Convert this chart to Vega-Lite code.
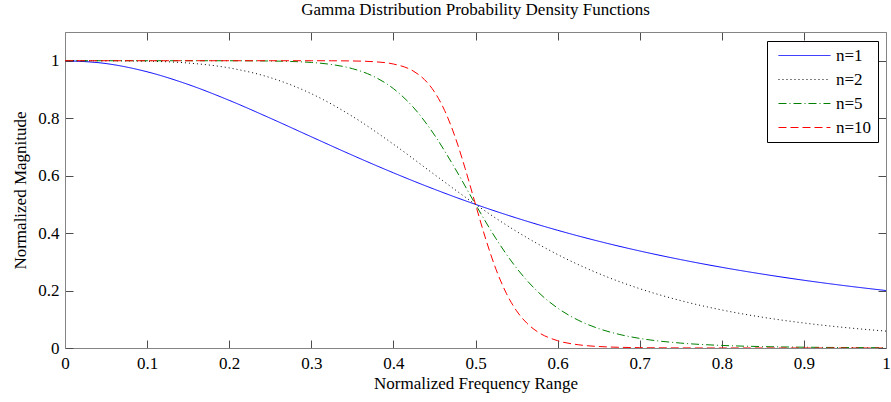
{
  "$schema": "https://vega.github.io/schema/vega-lite/v6.json",
  "width": 821,
  "height": 316,
  "autosize": {"type": "none"},
  "padding": {"left": 65, "top": 32, "right": 5, "bottom": 54},
  "background": "white",
  "title": {"text": "Gamma Distribution Probability Density Functions", "font": "Liberation Serif", "fontSize": 17, "fontWeight": "normal", "color": "black", "offset": 13, "anchor": "middle"},
  "config": {
    "view": {"stroke": null},
    "font": "Liberation Serif",
    "axis": {"labelFont": "Liberation Serif", "titleFont": "Liberation Serif", "labelFontSize": 17, "titleFontSize": 17, "titleFontWeight": "normal", "labelColor": "black", "titleColor": "black", "domainColor": "#848484", "tickColor": "#4d4d4d", "grid": false, "tickSize": -8, "labelPadding": 15},
    "legend": {"labelFont": "Liberation Serif", "labelFontSize": 17, "labelColor": "black"}
  },
  "data": {"values": [
    {"x":0,"n":"n=1","y":1},{"x":0.05,"n":"n=1","y":0.9901},{"x":0.1,"n":"n=1","y":0.9615},{"x":0.15,"n":"n=1","y":0.9174},{"x":0.2,"n":"n=1","y":0.8621},{"x":0.25,"n":"n=1","y":0.8},{"x":0.3,"n":"n=1","y":0.7353},{"x":0.35,"n":"n=1","y":0.6711},{"x":0.4,"n":"n=1","y":0.6098},{"x":0.45,"n":"n=1","y":0.5525},{"x":0.5,"n":"n=1","y":0.5},{"x":0.55,"n":"n=1","y":0.4525},{"x":0.6,"n":"n=1","y":0.4098},{"x":0.65,"n":"n=1","y":0.3717},{"x":0.7,"n":"n=1","y":0.3378},{"x":0.75,"n":"n=1","y":0.3077},{"x":0.8,"n":"n=1","y":0.2809},{"x":0.85,"n":"n=1","y":0.2571},{"x":0.9,"n":"n=1","y":0.2358},{"x":0.95,"n":"n=1","y":0.2169},{"x":1,"n":"n=1","y":0.2},
    {"x":0,"n":"n=2","y":1},{"x":0.05,"n":"n=2","y":0.9999},{"x":0.1,"n":"n=2","y":0.9984},{"x":0.15,"n":"n=2","y":0.992},{"x":0.2,"n":"n=2","y":0.975},{"x":0.25,"n":"n=2","y":0.9412},{"x":0.3,"n":"n=2","y":0.8853},{"x":0.35,"n":"n=2","y":0.8064},{"x":0.4,"n":"n=2","y":0.7095},{"x":0.45,"n":"n=2","y":0.6038},{"x":0.5,"n":"n=2","y":0.5},{"x":0.55,"n":"n=2","y":0.4058},{"x":0.6,"n":"n=2","y":0.3254},{"x":0.65,"n":"n=2","y":0.2593},{"x":0.7,"n":"n=2","y":0.2065},{"x":0.75,"n":"n=2","y":0.1649},{"x":0.8,"n":"n=2","y":0.1324},{"x":0.85,"n":"n=2","y":0.1069},{"x":0.9,"n":"n=2","y":0.087},{"x":0.95,"n":"n=2","y":0.0713},{"x":1,"n":"n=2","y":0.0588},
    {"x":0,"n":"n=5","y":1},{"x":0.05,"n":"n=5","y":1},{"x":0.1,"n":"n=5","y":1},{"x":0.15,"n":"n=5","y":1},{"x":0.2,"n":"n=5","y":0.9999},{"x":0.25,"n":"n=5","y":0.999},{"x":0.275,"n":"n=5","y":0.9975},{"x":0.3,"n":"n=5","y":0.994},{"x":0.325,"n":"n=5","y":0.9867},{"x":0.35,"n":"n=5","y":0.9725},{"x":0.375,"n":"n=5","y":0.9467},{"x":0.4,"n":"n=5","y":0.903},{"x":0.425,"n":"n=5","y":0.8355},{"x":0.45,"n":"n=5","y":0.7415},{"x":0.475,"n":"n=5","y":0.6255},{"x":0.5,"n":"n=5","y":0.5},{"x":0.525,"n":"n=5","y":0.3804},{"x":0.55,"n":"n=5","y":0.2783},{"x":0.575,"n":"n=5","y":0.1982},{"x":0.6,"n":"n=5","y":0.139},{"x":0.625,"n":"n=5","y":0.097},{"x":0.65,"n":"n=5","y":0.0676},{"x":0.675,"n":"n=5","y":0.0474},{"x":0.7,"n":"n=5","y":0.0334},{"x":0.75,"n":"n=5","y":0.0171},{"x":0.8,"n":"n=5","y":0.009},{"x":0.85,"n":"n=5","y":0.0049},{"x":0.9,"n":"n=5","y":0.0028},{"x":0.95,"n":"n=5","y":0.0016},{"x":1,"n":"n=5","y":0.001},
    {"x":0,"n":"n=10","y":1},{"x":0.1,"n":"n=10","y":1},{"x":0.2,"n":"n=10","y":1},{"x":0.25,"n":"n=10","y":1},{"x":0.3,"n":"n=10","y":1},{"x":0.325,"n":"n=10","y":0.9998},{"x":0.35,"n":"n=10","y":0.9992},{"x":0.375,"n":"n=10","y":0.9968},{"x":0.4,"n":"n=10","y":0.9886},{"x":0.425,"n":"n=10","y":0.9627},{"x":0.4375,"n":"n=10","y":0.9353},{"x":0.45,"n":"n=10","y":0.8916},{"x":0.4625,"n":"n=10","y":0.8262},{"x":0.475,"n":"n=10","y":0.7361},{"x":0.4875,"n":"n=10","y":0.6239},{"x":0.5,"n":"n=10","y":0.5},{"x":0.5125,"n":"n=10","y":0.379},{"x":0.525,"n":"n=10","y":0.2737},{"x":0.5375,"n":"n=10","y":0.1906},{"x":0.55,"n":"n=10","y":0.1294},{"x":0.5625,"n":"n=10","y":0.0866},{"x":0.575,"n":"n=10","y":0.0576},{"x":0.6,"n":"n=10","y":0.0254},{"x":0.625,"n":"n=10","y":0.0114},{"x":0.65,"n":"n=10","y":0.0052},{"x":0.7,"n":"n=10","y":0.0012},{"x":0.75,"n":"n=10","y":0.0003},{"x":0.8,"n":"n=10","y":0.0001},{"x":0.9,"n":"n=10","y":0},{"x":1,"n":"n=10","y":0}
  ]},
  "layer": [
    {
      "mark": {"type": "line", "strokeWidth": 1, "interpolate": "monotone", "clip": true},
      "encoding": {
        "x": {"field": "x", "type": "quantitative", "scale": {"domain": [0, 1], "nice": false}, "axis": {"values": [0,0.1,0.2,0.3,0.4,0.5,0.6,0.7,0.8,0.9,1], "format": "~g", "title": "Normalized Frequency Range", "titlePadding": 4, "labelFlush": false}},
        "y": {"field": "y", "type": "quantitative", "scale": {"domain": [0, 1.1], "nice": false}, "axis": {"values": [0,0.2,0.4,0.6,0.8,1], "format": "~g", "title": "Normalized Magnitude", "titlePadding": 8, "labelPadding": 14}},
        "color": {"field": "n", "type": "nominal", "scale": {"domain": ["n=1","n=2","n=5","n=10"], "range": ["#0000ff","#000000","#008000","#ff0000"]},
          "legend": {"title": null, "orient": "none", "legendX": 702, "legendY": 9, "strokeColor": "black", "fillColor": "white", "padding": 6, "labelFont": "Liberation Serif", "labelFontSize": 17, "labelColor": "black", "symbolType": "M-0.58,0H9.42", "symbolSize": 108, "symbolStrokeWidth": 1, "labelOffset": 46, "rowPadding": 6, "cornerRadius": 0}},
        "strokeDash": {"field": "n", "type": "nominal", "scale": {"domain": ["n=1","n=2","n=5","n=10"], "range": [[1,0],[1,3],[8,3,1,3],[8,4]]},
          "legend": {"title": null, "orient": "none", "legendX": 702, "legendY": 9, "strokeColor": "black", "fillColor": "white", "padding": 6, "labelFont": "Liberation Serif", "labelFontSize": 17, "labelColor": "black", "symbolType": "M-0.58,0H9.42", "symbolSize": 108, "symbolStrokeWidth": 1, "labelOffset": 46, "rowPadding": 6, "cornerRadius": 0}}
      }
    },
    {
      "mark": {"type": "line", "opacity": 0},
      "encoding": {
        "x": {"field": "x", "type": "quantitative", "scale": {"domain": [0, 1], "nice": false}, "axis": {"orient": "top", "values": [0,0.1,0.2,0.3,0.4,0.5,0.6,0.7,0.8,0.9,1], "labels": false, "title": null}},
        "y": {"field": "y", "type": "quantitative", "scale": {"domain": [0, 1.1], "nice": false}, "axis": {"orient": "right", "values": [0,0.2,0.4,0.6,0.8,1], "labels": false, "title": null}}
      }
    }
  ],
  "resolve": {"axis": {"x": "independent", "y": "independent"}}
}
